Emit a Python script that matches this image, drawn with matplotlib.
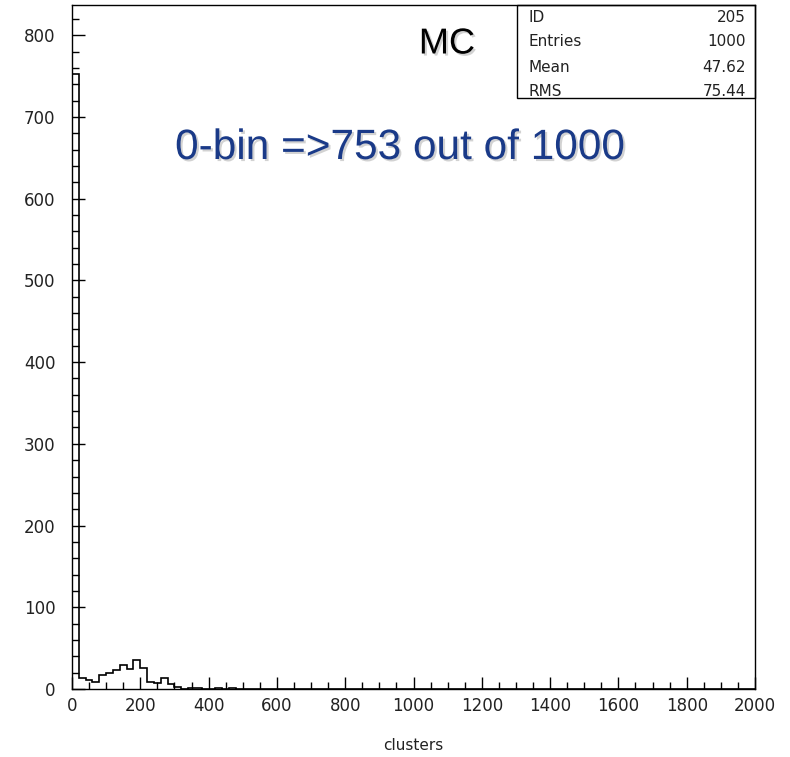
import numpy as np
import matplotlib
matplotlib.use("Agg")
import matplotlib.pyplot as plt
import matplotlib.patheffects as pe

# histogram contents, 100 bins of width 20 over 0..2000
counts = [753, 13, 11, 9, 17, 19, 23, 29, 25, 35,
          26, 9, 7, 13, 6, 2, 0, 1, 1, 0,
          0, 1, 0, 1, 0, 0, 0, 0, 0, 0,
          0, 0, 0, 0, 0, 0, 0, 0, 0, 0,
          0, 0, 0, 0, 0, 0, 0, 0, 0, 0,
          0, 0, 0, 0, 0, 0, 0, 0, 0, 0,
          0, 0, 0, 0, 0, 0, 0, 0, 0, 0,
          0, 0, 0, 0, 0, 0, 0, 0, 0, 0,
          0, 0, 0, 0, 0, 0, 0, 0, 0, 0,
          0, 0, 0, 0, 0, 0, 0, 0, 0, 0]
x_min, x_max = 0, 2000
y_max = 837

x_major = [0, 200, 400, 600, 800, 1000, 1200, 1400, 1600, 1800, 2000]
y_major = [0, 100, 200, 300, 400, 500, 600, 700, 800]

stat_names = ["ID", "Entries", "Mean", "RMS"]
stat_values = ["205", "1000", "47.62", "75.44"]

edges = np.linspace(x_min, x_max, len(counts) + 1)

fig = plt.figure(figsize=(7.9, 7.57), dpi=100)
ax = fig.add_axes([72 / 790, 1 - 689 / 757, 683 / 790, 684 / 757])

ax.stairs(counts, edges, color="black", lw=1.2)

ax.set_xlim(x_min, x_max)
ax.set_ylim(0, y_max)
ax.set_xticks(x_major)
ax.set_yticks(y_major)
ax.set_xticks(np.arange(0, 2001, 50), minor=True)
ax.set_yticks(np.arange(0, 821, 20), minor=True)
ax.tick_params(which="both", direction="in", top=False, right=False, color="black")
ax.tick_params(which="major", length=9, width=1)
ax.tick_params(which="minor", length=5, width=1)
ax.tick_params(axis="x", labelsize=12, pad=6, labelcolor="#222222")
ax.tick_params(axis="y", labelsize=12, pad=12, labelcolor="#222222")
for s in ax.spines.values():
    s.set_linewidth(1)
    s.set_color("black")

fig.text(413.5 / 790, 1 - 745 / 757, "clusters", ha="center", va="center", fontsize=11, color="#222222")

# stats box
bx0 = (517 - 72) / 683
by0 = (689 - 98) / 684
ax.add_patch(plt.Rectangle((bx0, by0), 1 - bx0, 1 - by0, transform=ax.transAxes,
                           fill=False, ec="black", lw=1, clip_on=False))
row_y = [17, 42, 67, 91]
for name, val, py in zip(stat_names, stat_values, row_y):
    yy = (689 - py) / 684
    ax.text((528 - 72) / 683, yy, name, transform=ax.transAxes, ha="left", va="center",
            fontsize=11, color="#222222")
    ax.text((746 - 72) / 683, yy, val, transform=ax.transAxes, ha="right", va="center",
            fontsize=11, color="#222222")

shadow = [pe.withSimplePatchShadow(offset=(1.5, -1.5), shadow_rgbFace="gray", alpha=0.35)]
ax.text((447 - 72) / 683, (689 - 44) / 684, "MC", transform=ax.transAxes, ha="center", va="center",
        fontsize=26, family="Liberation Sans", color="black", path_effects=shadow)
ax.text((400 - 72) / 683, (689 - 148) / 684, "0-bin =>753 out of 1000", transform=ax.transAxes,
        ha="center", va="center", fontsize=30.5, family="Liberation Sans", color="#1a3a88",
        path_effects=shadow)

fig.savefig("out.png", dpi=100)
